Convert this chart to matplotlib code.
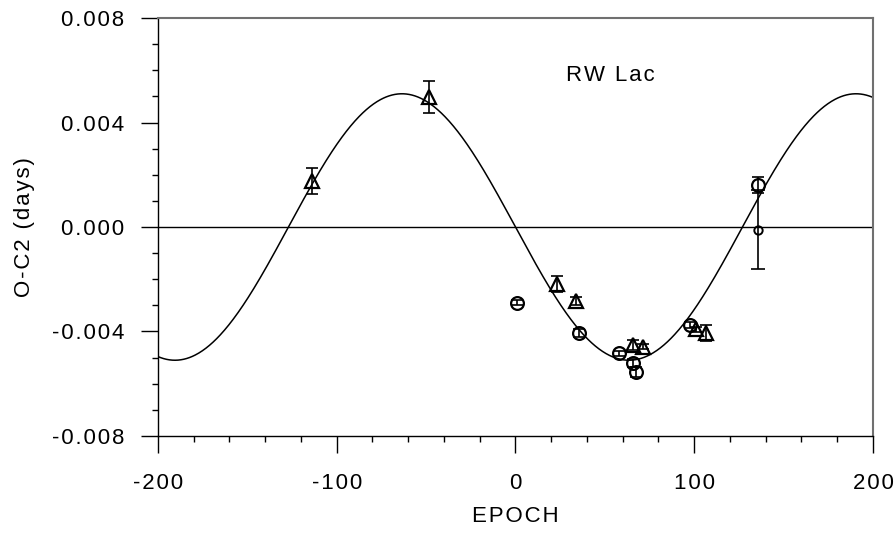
import numpy as np
import matplotlib.pyplot as plt

plt.rcParams['font.family'] = ['Liberation Sans', 'DejaVu Sans']
plt.rcParams['axes.unicode_minus'] = False

# primaire minima (cirkels)
epoch_circ = [0.6, 35.5, 57.9, 65.7, 67.6, 97.6, 135.7]
oc_circ = [-0.0029, -0.00407, -0.00483, -0.00522, -0.00556, -0.00375, 0.00161]
err_circ = [0.0001, 0.00015, 0.0001, 0.00015, 0.0002, 0.0001, 0.0003]

# secundair minimum (kleine cirkel)
epoch_small = [135.7]
oc_small = [-0.0001]
err_small = [0.0015]

# driehoeken
epoch_tri = [-113.9, -48.2, 23.3, 33.6, 65.9, 71.5, 100.8, 106.4]
oc_tri = [0.00175, 0.00497, -0.00218, -0.00282, -0.00452, -0.00458, -0.00392, -0.00405]
err_tri = [0.0005, 0.0006, 0.0003, 0.00015, 0.0002, 0.0001, 0.0001, 0.0003]

# parameters van de gefitte sinus
amp = 0.0051
periode = 254.0
epoch_nul = 0.0

xticks = [-200, -100, 0, 100, 200]
xlabels = ['-200', '-100', '0', '100', '200']
yticks = [-0.008, -0.004, 0.0, 0.004, 0.008]
ylabels = ['-0.008', '-0.004', '0.000', '0.004', '0.008']


# de letters in het origineel staan wat verder uit elkaar, dat doen we na met een hair space
def spatie(s):
    return '\u200a'.join(s)


fig = plt.figure(figsize=(8.96, 5.33), dpi=100)
ax = fig.add_axes([0.1763, 0.182, 0.7980, 0.7842])

t = np.linspace(-200, 200, 1000)
ax.plot(t, -amp * np.sin(2 * np.pi * (t - epoch_nul) / periode), color='black', lw=1.1)
ax.axhline(0, color='black', lw=1.0)

ax.errorbar(epoch_tri, oc_tri, yerr=err_tri, fmt='none', ecolor='black', elinewidth=1.2, capsize=4, capthick=1.2)
ax.errorbar(epoch_circ, oc_circ, yerr=err_circ, fmt='none', ecolor='black', elinewidth=1.2, capsize=4, capthick=1.2)
ax.errorbar(epoch_small, oc_small, yerr=err_small, fmt='none', ecolor='black', elinewidth=1.2, capsize=5, capthick=1.2)

ax.plot(epoch_tri, oc_tri, '^', ms=9.5, mfc='none', mec='black', mew=1.6)
ax.plot(epoch_circ, oc_circ, 'o', ms=9.2, mfc='none', mec='black', mew=1.6)
ax.plot(epoch_small, oc_small, 'o', ms=6, mfc='none', mec='black', mew=1.4)

ax.text(53, 0.0058, spatie('RW Lac'), fontsize=16, ha='center', va='center')

ax.set_xlim(-200, 200)
ax.set_ylim(-0.008, 0.008)
ax.set_xticks(xticks)
ax.set_xticks(np.arange(-200, 201, 20), minor=True)
ax.set_yticks(yticks)
ax.set_yticks(np.arange(-0.008, 0.0081, 0.001), minor=True)
ax.set_xticklabels([spatie(l) for l in xlabels])
ax.set_yticklabels([spatie(l) for l in ylabels])

ax.tick_params(which='major', direction='out', length=12.5, width=1.0, labelsize=16)
ax.tick_params(axis='x', which='major', pad=14)
ax.tick_params(axis='y', which='major', pad=12)
ax.tick_params(which='minor', direction='out', length=4.5, width=1.0)

for s in ['left', 'bottom']:
    ax.spines[s].set_color('black')
    ax.spines[s].set_linewidth(1.0)
for s in ['top', 'right']:
    ax.spines[s].set_color('#707070')
    ax.spines[s].set_linewidth(1.5)

ax.set_xlabel(spatie('EPOCH'), fontsize=16, labelpad=9)
ax.set_ylabel(spatie('O-C2 (days)'), fontsize=16, labelpad=12)

fig.savefig('out.png', dpi=100)
